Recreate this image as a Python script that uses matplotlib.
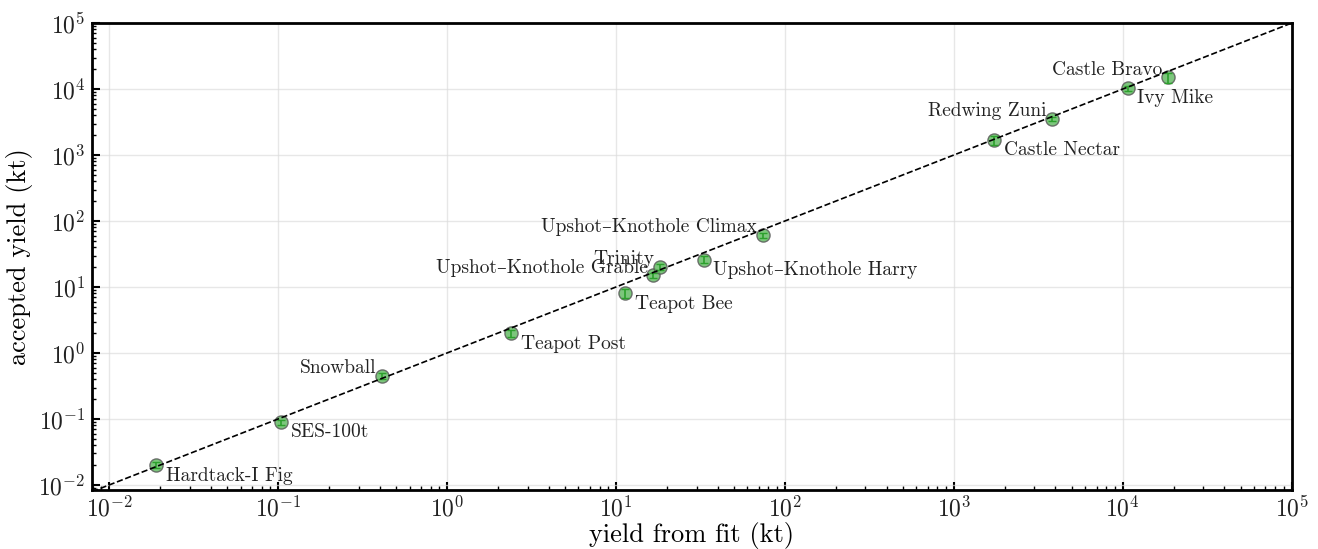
import numpy as np
import matplotlib
matplotlib.use("Agg")
import matplotlib.pyplot as plt
from matplotlib.ticker import FuncFormatter

plt.rcParams['font.family'] = ['cmr10', 'DejaVu Serif']
plt.rcParams['mathtext.fontset'] = 'cm'
plt.rcParams['axes.unicode_minus'] = False

# test names, fitted yield, accepted yield (kt)
names = ["Hardtack-I Fig", "SES-100t", "Snowball", "Teapot Post", "Teapot Bee",
         "Upshot–Knothole Grable", "Trinity", "Upshot–Knothole Harry",
         "Upshot–Knothole Climax", "Castle Nectar", "Redwing Zuni", "Ivy Mike",
         "Castle Bravo"]
fit_yield = [0.019, 0.104, 0.41, 2.4, 11.3, 16.6, 18.2, 33.0, 74.0, 1725, 3800, 10700, 18500]
accepted = [0.020, 0.090, 0.45, 2.0, 8.0, 15.0, 20.0, 26.0, 61.0, 1690, 3530, 10400, 15000]
acc_err = [0.002, 0.008, 0.04, 0.25, 1.2, 1.5, 2.0, 3.0, 6.0, 280, 250, 900, 2500]
# which side of the point each label sits on
left_side = [False, False, True, False, False, True, True, False, True, False, True, False, True]

fig = plt.figure(figsize=(13.18, 5.49), dpi=100)
ax = fig.add_axes([0.070, 0.107, 0.910, 0.851])

lims = [10**-2.1, 1e5]
ax.plot(lims, lims, 'k--', lw=1.2, zorder=6)

ax.scatter(fit_yield, accepted, s=90, c='#5cb85c', edgecolors='#555555',
           linewidths=1.0, alpha=0.8, zorder=4)
ax.errorbar(fit_yield, accepted, yerr=acc_err, fmt='none', ecolor='#2ca02c',
            elinewidth=1.2, capsize=3, zorder=5)

for name, x, y, left in zip(names, fit_yield, accepted, left_side):
    if left:
        ax.annotate(name, (x, y), xytext=(-4, 2), textcoords='offset points',
                    ha='right', va='baseline', fontsize=14, color='#222222')
    else:
        ax.annotate(name, (x, y), xytext=(7, -1), textcoords='offset points',
                    ha='left', va='top', fontsize=14, color='#222222')

ax.set_xscale('log')
ax.set_yscale('log')
ax.set_xlim(lims)
ax.set_ylim(10**-2.08, 1e5)
pow_fmt = FuncFormatter(lambda v, pos: r'$10^{%d}$' % round(np.log10(v)))
ax.xaxis.set_major_formatter(pow_fmt)
ax.yaxis.set_major_formatter(pow_fmt)
ax.set_xlabel('yield from fit (kt)', fontsize=19)
ax.set_ylabel('accepted yield (kt)', fontsize=19)
ax.xaxis.set_label_coords(0.5, -0.068)
ax.yaxis.set_label_coords(-0.049, 0.5)
ax.tick_params(which='both', direction='in', labelsize=17, labelcolor='#222222')
ax.tick_params(which='major', length=6, width=1.5)
ax.tick_params(which='minor', length=3, width=1)
ax.tick_params(axis='x', pad=4)
ax.tick_params(axis='y', pad=5)
ax.grid(True, which='major', color='#dddddd', lw=1, alpha=0.7)
for sp in ax.spines.values():
    sp.set_linewidth(2)

fig.savefig('out.png', dpi=100)
